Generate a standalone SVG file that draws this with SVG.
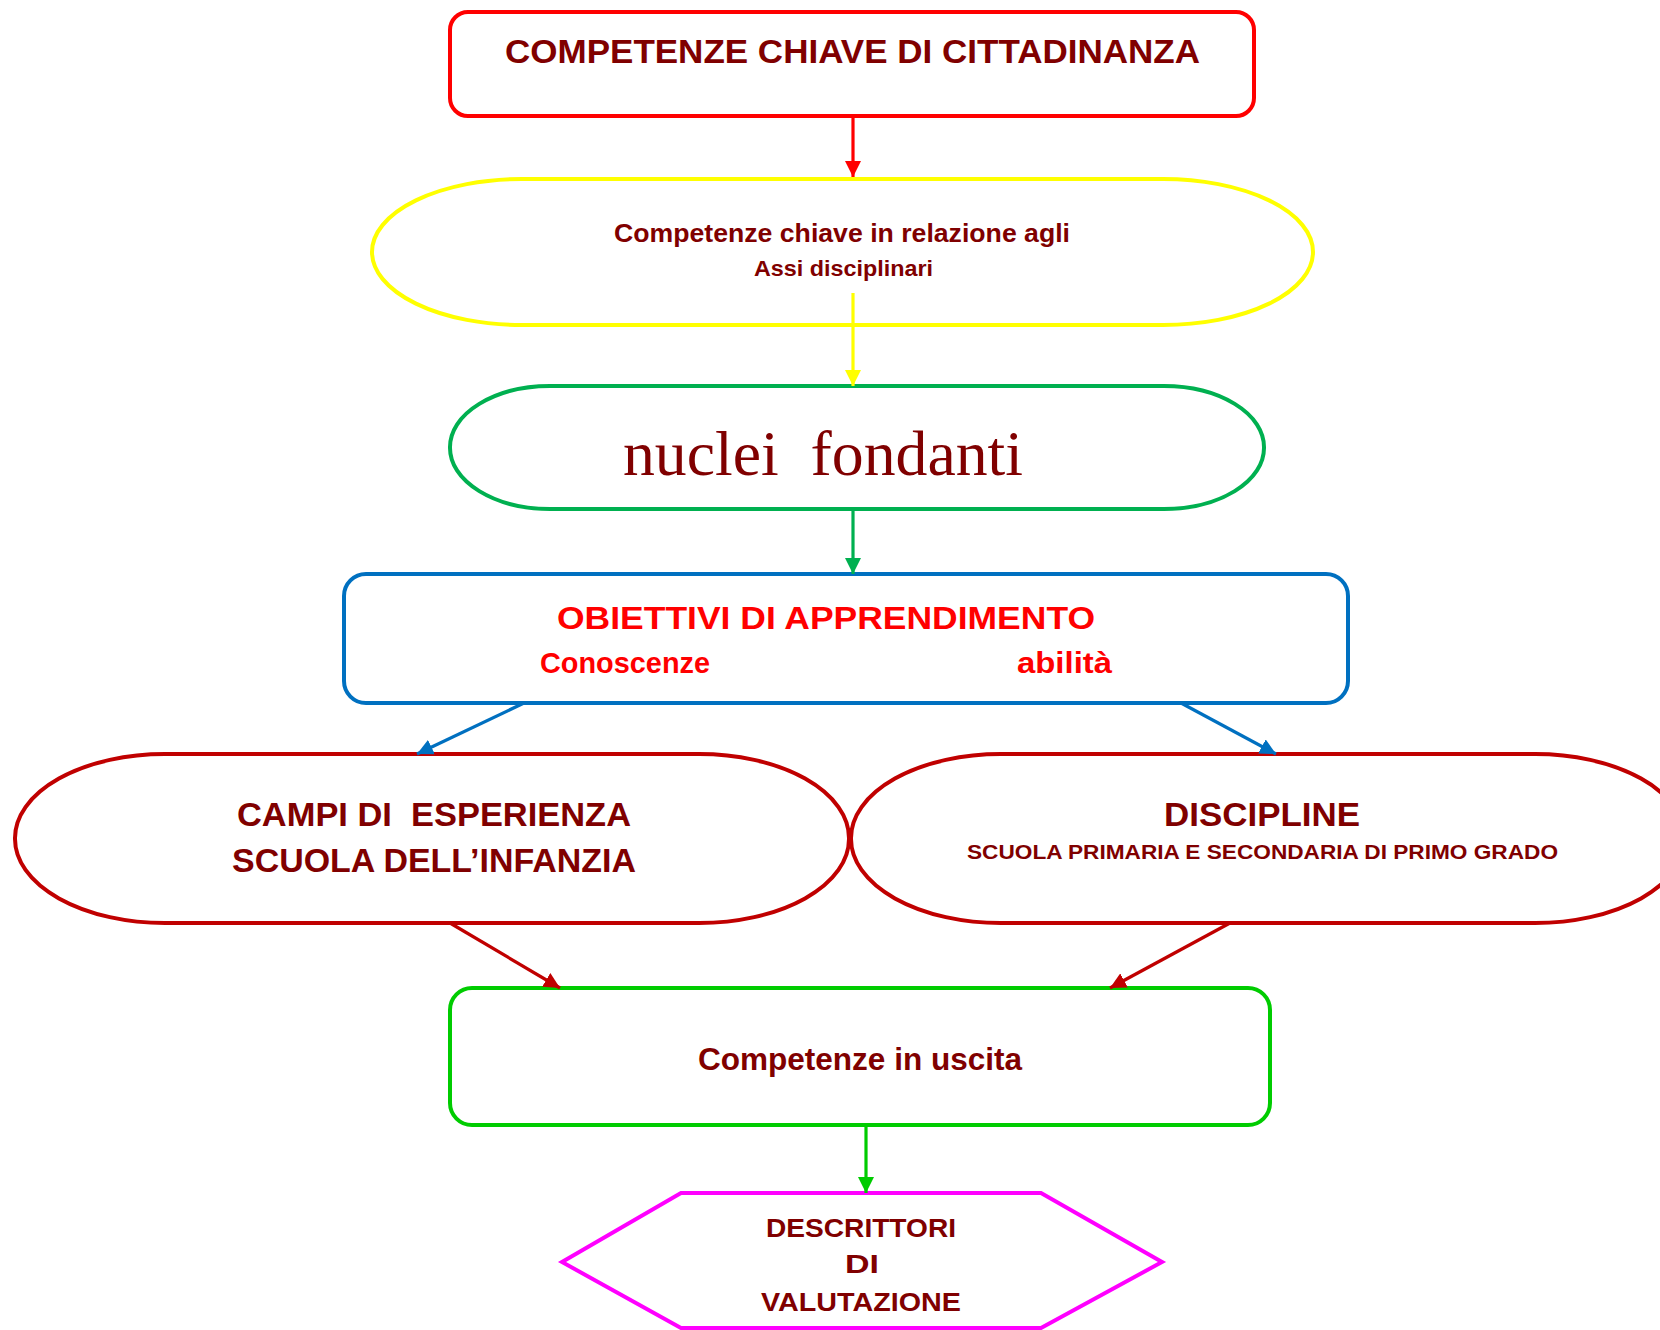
<svg xmlns="http://www.w3.org/2000/svg" width="1660" height="1330" viewBox="0 0 1660 1330">
<style>
.t{font-family:"Liberation Sans",Arial,sans-serif;font-weight:bold;fill:#800000;white-space:pre}
.r{fill:#FF0000}
.s{fill:#fff;stroke-width:4}
.c{stroke-width:3.2;fill:none}
</style>
<defs>
<marker id="aR" markerUnits="userSpaceOnUse" markerWidth="16" markerHeight="16" refX="16" refY="8" orient="auto"><path d="M0,0 L16,8 L0,16 z" fill="#FF0000"/></marker>
<marker id="aY" markerUnits="userSpaceOnUse" markerWidth="16" markerHeight="16" refX="16" refY="8" orient="auto"><path d="M0,0 L16,8 L0,16 z" fill="#FFFF00"/></marker>
<marker id="aG" markerUnits="userSpaceOnUse" markerWidth="16" markerHeight="16" refX="16" refY="8" orient="auto"><path d="M0,0 L16,8 L0,16 z" fill="#00B050"/></marker>
<marker id="aB" markerUnits="userSpaceOnUse" markerWidth="16" markerHeight="16" refX="16" refY="8" orient="auto"><path d="M0,0 L16,8 L0,16 z" fill="#0070C0"/></marker>
<marker id="aD" markerUnits="userSpaceOnUse" markerWidth="16" markerHeight="16" refX="16" refY="8" orient="auto"><path d="M0,0 L16,8 L0,16 z" fill="#C00000"/></marker>
<marker id="aL" markerUnits="userSpaceOnUse" markerWidth="16" markerHeight="16" refX="16" refY="8" orient="auto"><path d="M0,0 L16,8 L0,16 z" fill="#00CC00"/></marker>
</defs>
<rect width="1660" height="1330" fill="#fff"/>

<g id="competenze-chiave">
<rect class="s" x="450" y="12" width="804" height="104" rx="18" stroke="#FF0000"/>
<text class="t" x="505" y="63" font-size="33" textLength="695" lengthAdjust="spacingAndGlyphs">COMPETENZE CHIAVE DI CITTADINANZA</text>
</g>

<g id="assi">
<rect class="s" x="372" y="179" width="941" height="146" rx="150" ry="73" stroke="#FFFF00"/>
<text class="t" x="614" y="242" font-size="26" textLength="456" lengthAdjust="spacingAndGlyphs">Competenze chiave in relazione agli</text>
<text class="t" x="754" y="276" font-size="22" textLength="179" lengthAdjust="spacingAndGlyphs">Assi disciplinari</text>
</g>

<g id="nuclei">
<rect class="s" x="450" y="386" width="814" height="123" rx="100" ry="61" stroke="#00B050"/>
<text x="623" y="475" font-family="'Liberation Serif','Times New Roman',serif" font-size="64" fill="#800000" style="white-space:pre" textLength="400" lengthAdjust="spacingAndGlyphs">nuclei  fondanti</text>
</g>

<g id="obiettivi">
<rect class="s" x="344" y="574" width="1004" height="129" rx="22" stroke="#0070C0"/>
<text class="t r" x="557" y="629" font-size="32" textLength="538" lengthAdjust="spacingAndGlyphs">OBIETTIVI DI APPRENDIMENTO</text>
<text class="t r" x="540" y="673" font-size="30" textLength="170" lengthAdjust="spacingAndGlyphs">Conoscenze</text>
<text class="t r" x="1017" y="673" font-size="30" textLength="95" lengthAdjust="spacingAndGlyphs">abilità</text>
</g>

<g id="campi">
<rect class="s" x="15" y="754" width="834" height="169" rx="150" ry="84" stroke="#C00000"/>
<text class="t" x="237" y="826" font-size="33" textLength="394" lengthAdjust="spacingAndGlyphs">CAMPI DI  ESPERIENZA</text>
<text class="t" x="232" y="872" font-size="33" textLength="404" lengthAdjust="spacingAndGlyphs">SCUOLA DELL’INFANZIA</text>
</g>

<g id="discipline">
<rect class="s" x="851" y="754" width="834" height="169" rx="150" ry="84" stroke="#C00000"/>
<text class="t" x="1164" y="826" font-size="33" textLength="196" lengthAdjust="spacingAndGlyphs">DISCIPLINE</text>
<text class="t" x="967" y="859" font-size="21" textLength="591" lengthAdjust="spacingAndGlyphs">SCUOLA PRIMARIA E SECONDARIA DI PRIMO GRADO</text>
</g>

<g id="uscita">
<rect class="s" x="450" y="988" width="820" height="137" rx="22" stroke="#00CC00"/>
<text class="t" x="698" y="1070" font-size="32" textLength="324" lengthAdjust="spacingAndGlyphs">Competenze in uscita</text>
</g>

<g id="descrittori">
<polygon class="s" points="681,1193 1041,1193 1162,1262 1041,1328 681,1328 562,1262" stroke="#FF00FF"/>
<text class="t" x="766" y="1237" font-size="26" textLength="190" lengthAdjust="spacingAndGlyphs">DESCRITTORI</text>
<text class="t" x="845" y="1273" font-size="26" textLength="34" lengthAdjust="spacingAndGlyphs">DI</text>
<text class="t" x="761" y="1311" font-size="26" textLength="200" lengthAdjust="spacingAndGlyphs">VALUTAZIONE</text>
</g>

<g id="connectors">
<line class="c" x1="853" y1="116" x2="853" y2="177" stroke="#FF0000" marker-end="url(#aR)"/>
<line class="c" x1="853" y1="293" x2="853" y2="386" stroke="#FFFF00" marker-end="url(#aY)"/>
<line class="c" x1="853" y1="509" x2="853" y2="574" stroke="#00B050" marker-end="url(#aG)"/>
<line class="c" x1="524" y1="703" x2="417" y2="754" stroke="#0070C0" marker-end="url(#aB)"/>
<line class="c" x1="1181" y1="703" x2="1276" y2="754" stroke="#0070C0" marker-end="url(#aB)"/>
<line class="c" x1="450" y1="923" x2="560" y2="988" stroke="#C00000" marker-end="url(#aD)"/>
<line class="c" x1="1230" y1="923" x2="1110" y2="988" stroke="#C00000" marker-end="url(#aD)"/>
<line class="c" x1="866" y1="1125" x2="866" y2="1193" stroke="#00CC00" marker-end="url(#aL)"/>
</g>
</svg>
